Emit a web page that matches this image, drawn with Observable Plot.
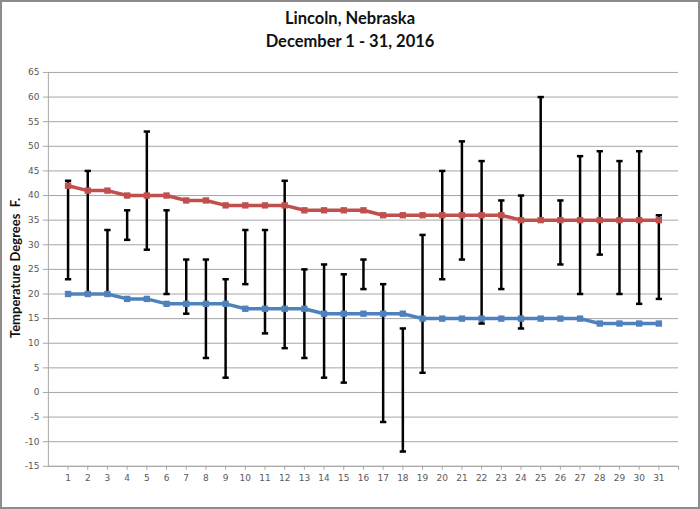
<!DOCTYPE html>
<html>
<head>
<meta charset="utf-8">
<script src="https://cdn.jsdelivr.net/npm/d3@7"></script>
<script src="https://cdn.jsdelivr.net/npm/@observablehq/plot@0.6"></script>
<style>
  html, body { margin: 0; padding: 0; background: #fff; }
  #frame { position: relative; width: 700px; height: 509px; box-sizing: border-box; border: 2px solid #8c8c8c; overflow: hidden; }
  #title { position: absolute; left: 0; top: 0; width: 696px; height: 54px; text-align: center; font-family: Lato, "Open Sans", sans-serif; font-weight: 700; font-size: 16.5px; line-height: 23px; color: #111; padding-top: 5px; box-sizing: border-box; }
  #chart { position: absolute; left: -2px; top: 54px; }
  #ylab { position: absolute; left: 13px; top: 266px; transform: translate(-50%, -50%) rotate(-90deg); transform-origin: center; white-space: pre; font-family: Lato, "Open Sans", sans-serif; font-weight: 700; font-size: 13px; color: #111; }
</style>
</head>
<body>
<div id="frame">
  <div id="title">Lincoln, Nebraska<br>December 1 - 31, 2016</div>
  <div id="chart"></div>
  <div id="ylab">Temperature Degrees  F.</div>
</div>
<script>
const days = d3.range(1, 32);
const actualHigh = [43, 45, 33, 37, 53, 37, 27, 27, 23, 33, 33, 43, 25, 26, 24, 27, 22, 13, 32, 45, 51, 47, 39, 40, 60, 39, 48, 49, 47, 49, 36];
const actualLow  = [23, 20, 20, 31, 29, 20, 16, 7, 3, 22, 12, 9, 7, 3, 2, 21, -6, -12, 4, 23, 27, 14, 21, 13, 35, 26, 20, 28, 20, 18, 19];
const normalHigh = [42, 41, 41, 40, 40, 40, 39, 39, 38, 38, 38, 38, 37, 37, 37, 37, 36, 36, 36, 36, 36, 36, 36, 35, 35, 35, 35, 35, 35, 35, 35];
const normalLow  = [20, 20, 20, 19, 19, 18, 18, 18, 18, 17, 17, 17, 17, 16, 16, 16, 16, 16, 15, 15, 15, 15, 15, 15, 15, 15, 15, 14, 14, 14, 14];
const yTicks = d3.range(-15, 66, 5);
const xTickMarks = d3.range(1, 33);

const rows = days.map((d, i) => ({day: d, hi: actualHigh[i], lo: actualLow[i], nh: normalHigh[i], nl: normalLow[i]}));
const capHalf = 0.16;

const chart = Plot.plot({
  width: 700,
  height: 455,
  marginTop: 16,
  marginBottom: 44,
  marginLeft: 48,
  marginRight: 20,
  style: {fontFamily: "'DejaVu Sans', sans-serif", fontSize: "9px", color: "#595959", background: "transparent"},
  x: {domain: [0, 32], axis: null},
  y: {domain: [-15, 65], axis: null},
  marks: [
    Plot.gridY(yTicks, {stroke: "#a6a6a6", strokeOpacity: 1, strokeWidth: 1}),
    Plot.ruleX([0], {stroke: "#a6a6a6", strokeWidth: 1}),
    Plot.axisY(yTicks, {tickSize: 5, tickPadding: 4, stroke: "#a6a6a6", fill: "#595959", tickFormat: d => String(d)}),
    Plot.axisX(xTickMarks, {tickSize: 4, stroke: "#a6a6a6", tickFormat: () => "", label: null}),
    Plot.axisX(days, {tickSize: 0, tickPadding: 8, fill: "#595959", tickFormat: d => String(d), label: null}),
    Plot.ruleY([-15], {stroke: "#a6a6a6", strokeWidth: 1}),
    Plot.ruleX(rows, {x: "day", y1: "lo", y2: "hi", stroke: "black", strokeWidth: 2.5}),
    Plot.link(rows, {x1: d => d.day - capHalf, x2: d => d.day + capHalf, y1: "hi", y2: "hi", stroke: "black", strokeWidth: 2.5}),
    Plot.link(rows, {x1: d => d.day - capHalf, x2: d => d.day + capHalf, y1: "lo", y2: "lo", stroke: "black", strokeWidth: 2.5}),
    Plot.line(rows, {x: "day", y: "nh", stroke: "#c0504d", strokeWidth: 3.5}),
    Plot.dot(rows, {x: "day", y: "nh", symbol: "square", r: 3.6, fill: "#c0504d", stroke: "none"}),
    Plot.line(rows, {x: "day", y: "nl", stroke: "#4f81bd", strokeWidth: 3.5}),
    Plot.dot(rows, {x: "day", y: "nl", symbol: "square", r: 3.6, fill: "#4f81bd", stroke: "none"})
  ]
});
document.getElementById("chart").appendChild(chart);
</script>
</body>
</html>
